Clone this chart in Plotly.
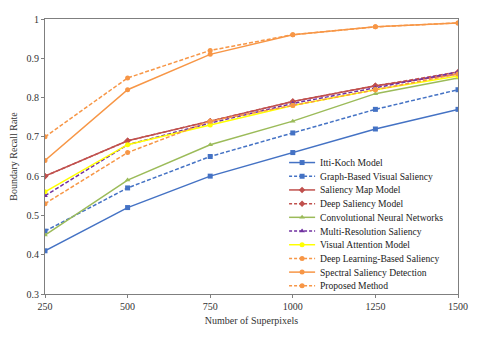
import plotly.graph_objects as go

superpixels = [250, 500, 750, 1000, 1250, 1500]

itti_koch = [0.41, 0.52, 0.60, 0.66, 0.72, 0.77]
graph_based = [0.46, 0.57, 0.65, 0.71, 0.77, 0.82]
saliency_map = [0.60, 0.69, 0.74, 0.79, 0.83, 0.86]
deep_saliency = [0.60, 0.69, 0.74, 0.79, 0.83, 0.865]
cnn = [0.45, 0.59, 0.68, 0.74, 0.81, 0.85]
multi_res = [0.55, 0.68, 0.735, 0.785, 0.825, 0.865]
visual_attention = [0.56, 0.68, 0.73, 0.78, 0.82, 0.855]
deep_learning = [0.53, 0.66, 0.74, 0.78, 0.82, 0.86]
spectral = [0.64, 0.82, 0.91, 0.96, 0.98, 0.99]
proposed = [0.70, 0.85, 0.92, 0.96, 0.98, 0.99]

series = [
    ("Itti-Koch Model", itti_koch, "#4472C4", "solid", "square"),
    ("Graph-Based Visual Saliency", graph_based, "#4472C4", "dash", "square"),
    ("Saliency Map Model", saliency_map, "#C0504D", "solid", "diamond"),
    ("Deep Saliency Model", deep_saliency, "#C0504D", "dash", "diamond"),
    ("Convolutional Neural Networks", cnn, "#9BBB59", "solid", "triangle-up"),
    ("Multi-Resolution Saliency", multi_res, "#7030A0", "dash", "triangle-up"),
    ("Visual Attention Model", visual_attention, "#FFFF00", "solid", "circle"),
    ("Deep Learning-Based Saliency", deep_learning, "#F79646", "dash", "circle"),
    ("Spectral Saliency Detection", spectral, "#F79646", "solid", "circle"),
    ("Proposed Method", proposed, "#F79646", "dash", "circle"),
]

fig = go.Figure()
for name, vals, color, dash, symbol in series:
    fig.add_trace(go.Scatter(
        x=superpixels, y=vals, name=name, mode="lines+markers",
        line=dict(color=color, width=1.5, dash="4px,2px" if dash == "dash" else "solid"),
        marker=dict(color=color, symbol=symbol, size=5),
        showlegend=False,
    ))

# hand-made legend (plotly's rows are too tall for this spacing)
# overlay axes in plot-area fractions
lx0, lx1, ltext = 0.591, 0.654, 0.661
ly_top, ly_step = 0.478, 0.0498
for i, (name, vals, color, dash, symbol) in enumerate(series):
    ly = ly_top - i * ly_step
    fig.add_trace(go.Scatter(
        x=[lx0, (lx0 + lx1) / 2, lx1], y=[ly, ly, ly], mode="lines",
        line=dict(color=color, width=1.5, dash="3px,2px" if dash == "dash" else "solid"),
        xaxis="x2", yaxis="y2", showlegend=False, hoverinfo="skip",
    ))
    fig.add_trace(go.Scatter(
        x=[(lx0 + lx1) / 2], y=[ly], mode="markers",
        marker=dict(color=color, symbol=symbol, size=5),
        xaxis="x2", yaxis="y2", showlegend=False, hoverinfo="skip",
    ))
    fig.add_annotation(
        x=ltext, y=ly, xref="x2", yref="y2", text=name, showarrow=False,
        xanchor="left", yanchor="middle",
        font=dict(family="Liberation Serif", size=9.6, color="#222222"),
    )

axis_font = dict(family="Liberation Serif", size=10, color="#333333")
# page body has an 8px margin, so the figure is 8px smaller each way
fig.update_layout(
    width=472, height=329,
    margin=dict(l=37, r=22, t=11, b=43),
    paper_bgcolor="white", plot_bgcolor="white",
    font=dict(family="Liberation Serif", size=10, color="#222222"),
    showlegend=False,
    xaxis=dict(
        range=[250, 1500], tickvals=superpixels, showgrid=False, zeroline=False,
        showline=True, linecolor="#7f7f7f", linewidth=1, mirror=True,
        ticks="outside", ticklen=3, tickcolor="#7f7f7f", tickfont=axis_font,
        automargin=False,
        title=dict(text="Number of Superpixels", font=axis_font, standoff=5),
    ),
    yaxis=dict(
        range=[0.3, 1], dtick=0.1, showgrid=False, zeroline=False,
        showline=True, linecolor="#7f7f7f", linewidth=1, mirror=True,
        ticks="outside", ticklen=3, tickcolor="#7f7f7f", tickfont=axis_font,
        automargin=False,
        title=dict(text="Boundary Recall Rate", font=axis_font, standoff=8),
    ),
    xaxis2=dict(overlaying="x", range=[0, 1], visible=False, fixedrange=True),
    yaxis2=dict(overlaying="y", range=[0, 1], visible=False, fixedrange=True),
)

fig.write_html("out.html")
